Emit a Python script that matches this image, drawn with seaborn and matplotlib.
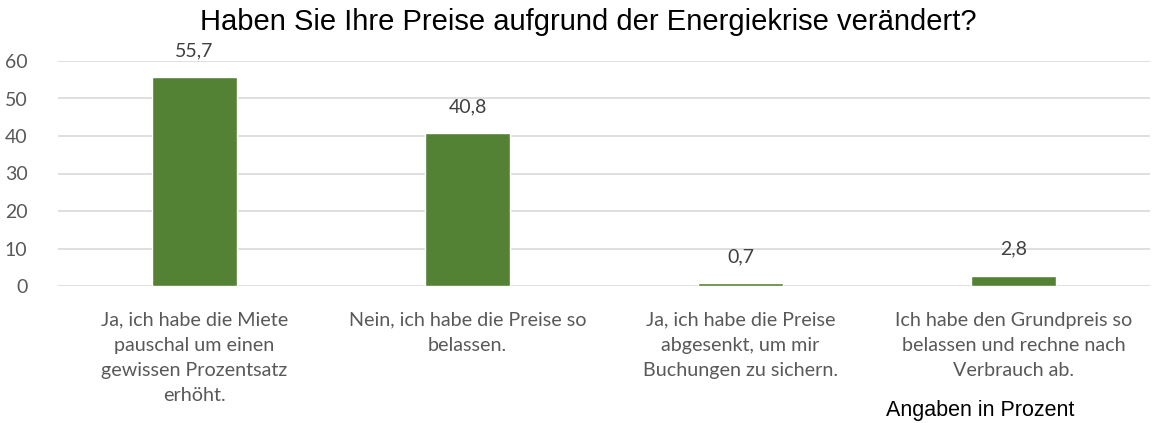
import matplotlib
matplotlib.use("Agg")
import matplotlib.pyplot as plt
import matplotlib.transforms as mtransforms
import seaborn as sns
import pandas as pd

# Data
answers = [
    "Ja, ich habe die Miete\npauschal um einen\ngewissen Prozentsatz\nerhöht.",
    "Nein, ich habe die Preise so\nbelassen.",
    "Ja, ich habe die Preise\nabgesenkt, um mir\nBuchungen zu sichern.",
    "Ich habe den Grundpreis so\nbelassen und rechne nach\nVerbrauch ab.",
]
shares = [55.7, 40.8, 0.7, 2.8]
y_ticks = [0, 10, 20, 30, 40, 50, 60]

df = pd.DataFrame({"Antwort": answers, "Anteil": shares})

sns.set_style("white")
plt.rcParams['font.family'] = ['Lato', 'DejaVu Sans']

fig = plt.figure(figsize=(11.59, 4.23), dpi=100)
ax = fig.add_axes([58 / 1159, 1 - 286 / 423, (1150 - 58) / 1159, (286 - 61) / 423])

sns.barplot(data=df, x="Antwort", y="Anteil", color="#548235", width=0.315,
            saturation=1, ax=ax, zorder=3)

ax.set_ylim(0, 60)
ax.set_xlim(-0.5, 3.5)
ax.set_yticks(y_ticks)
ax.set_yticklabels([str(t) for t in y_ticks], fontsize=14, color="#595959")
ax.yaxis.grid(True, color="#d9d9d9", linewidth=1.2, zorder=0)
ax.set_axisbelow(True)
for s in ax.spines.values():
    s.set_visible(False)
ax.tick_params(axis="both", length=0)
ax.tick_params(axis="y", pad=22)
ax.set_xticklabels([])
ax.set_xlabel("")
ax.set_ylabel("")

# category labels drawn as text so the line spacing sticks
trans = mtransforms.blended_transform_factory(ax.transData, ax.transAxes)
for i, lab in enumerate(answers):
    ax.text(i, -0.115, lab, transform=trans, ha="center", va="top", fontsize=14.2,
            color="#595959", linespacing=1.57)

# value labels
for container in ax.containers:
    ax.bar_label(container, labels=[f"{v:.1f}".replace(".", ",") for v in shares],
                 padding=13, fontsize=14, color="#404040")

fig.text(588 / 1159, 1 - 22 / 423, "Haben Sie Ihre Preise aufgrund der Energiekrise verändert?",
         ha="center", va="center", fontsize=21, family="Liberation Sans", color="black")
fig.text(980 / 1159, 1 - 410 / 423, "Angaben in Prozent", ha="center", va="center",
         fontsize=15.5, family="Liberation Sans", color="black")

fig.savefig("out.png", dpi=100)
